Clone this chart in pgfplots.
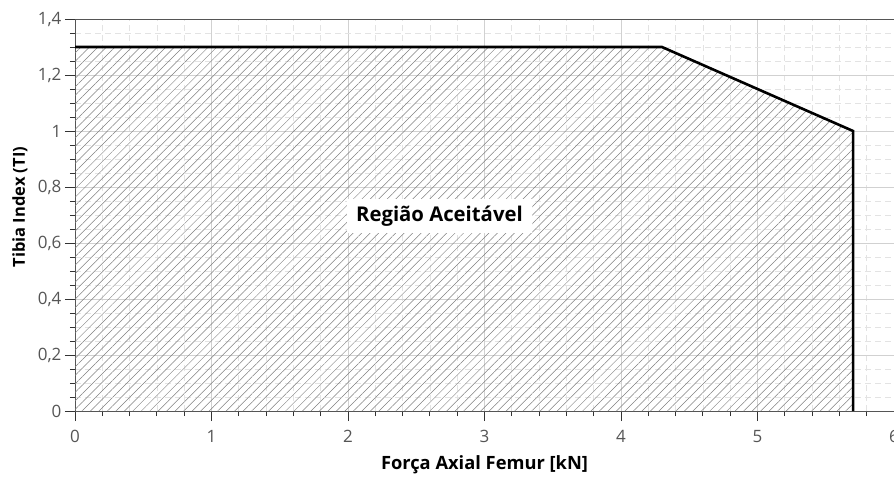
\documentclass[border=0pt]{standalone}
\usepackage{fontspec}
\setmainfont{Open Sans}
\usepackage{pgfplots}
\pgfplotsset{compat=1.18}
\usetikzlibrary{patterns.meta,calc}
\definecolor{axgray}{HTML}{555555}
\begin{document}
\begin{tikzpicture}
\begin{axis}[name=ax, scale only axis, width=819pt, height=392pt,
  xmin=0, xmax=6, ymin=0, ymax=1.4,
  xtick={0,1,2,3,4,5,6}, ytick={0,0.2,0.4,0.6,0.8,1,1.2,1.4},
  minor x tick num=4, minor y tick num=3,
  grid=both,
  major grid style={draw=black!18, line width=0.7pt},
  minor grid style={draw=black!11, dash pattern=on 6pt off 4pt, line width=0.7pt},
  tick align=outside, tick pos=left,
  major tick length=10pt, minor tick length=5pt,
  axis line style={axgray, line width=0.9pt},
  tick style={black!80, line width=0.9pt},
  /pgf/number format/use comma, /pgf/number format/assume math mode=true,
  yticklabel style={/pgf/number format/fixed, /pgf/number format/precision=1},
  xticklabel style={yshift=-6pt},
  ticklabel style={font=\fontsize{17}{19}\selectfont, text=axgray},
  xlabel={\textbf{Força Axial Femur [kN]}}, ylabel={\textbf{Tibia Index (TI)}},
  xlabel style={font=\fontsize{18.3}{21}\selectfont, at={(axis description cs:0.5,-0.1378)}, anchor=center},
  ylabel style={font=\fontsize{16.5}{19}\selectfont, at={(axis description cs:-0.0672,0.52)}, anchor=center},
]
\addplot[draw=none, pattern={Lines[angle=45,distance=6pt,line width=0.5pt]}, pattern color=black!50] coordinates {(0,1.3) (4.3,1.3) (5.7,1.0) (5.7,0)} \closedcycle;
\addplot[black, line width=2.6pt] coordinates {(0,1.3) (4.3,1.3) (5.7,1.0) (5.7,0)};
\node[fill=white, font=\fontsize{20.3}{23}\selectfont, inner xsep=9pt, inner ysep=7pt] at (axis cs:2.67,0.696) {\textbf{Região Aceitável}};
\end{axis}
\pgfresetboundingbox
\path[use as bounding box] ($(ax.south west)+(-75pt,-65pt)$) rectangle ($(ax.north east)+(0pt,19pt)$);
\end{tikzpicture}
\end{document}
